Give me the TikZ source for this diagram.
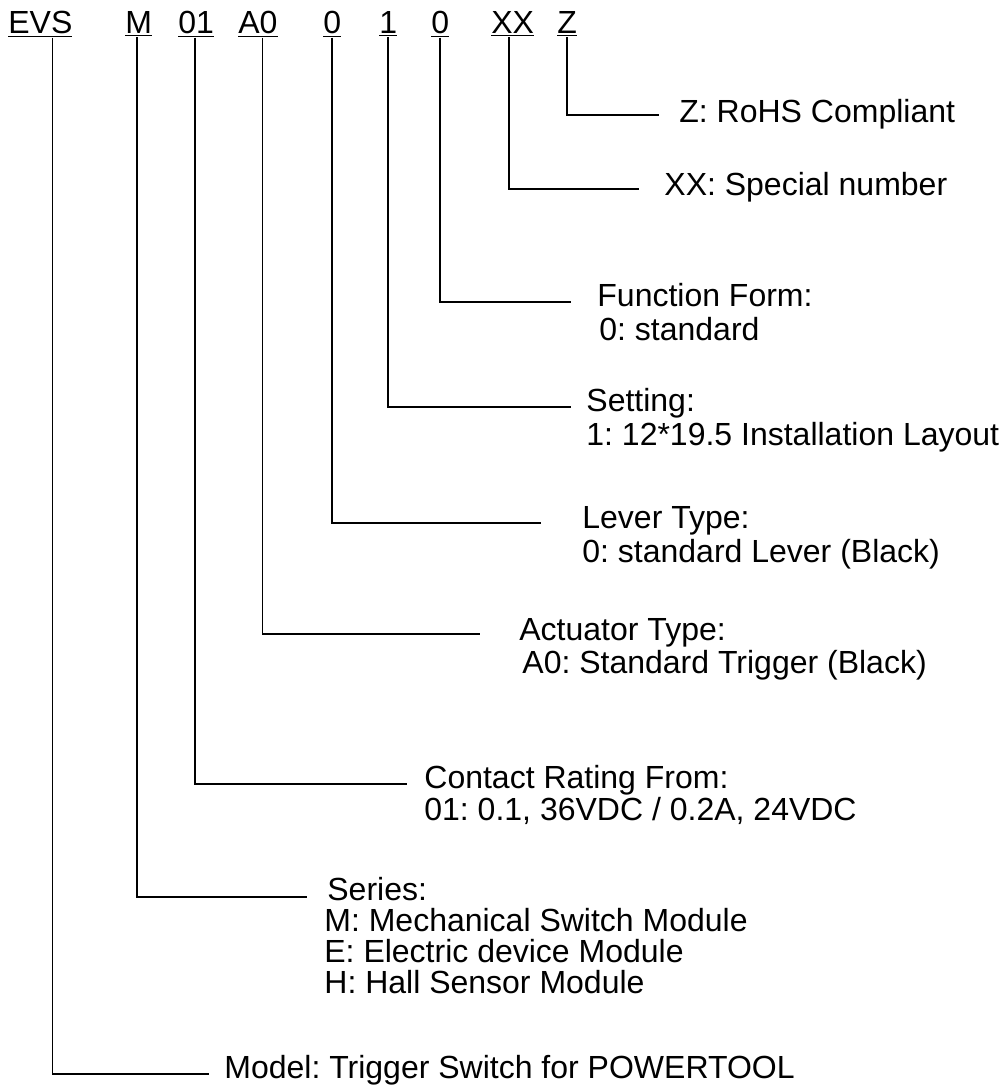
\documentclass[tikz,border=0pt]{standalone}
\usepackage{fontspec}
\setmainfont{Liberation Sans}
\usetikzlibrary{positioning}
\frenchspacing

\begin{document}
\begin{tikzpicture}[x=0.5pt,y=-0.5pt,node distance=17pt]
    \tikzstyle{code}=[inner sep=0pt,anchor=base west,
      font=\fontsize{16}{19}\selectfont]
    \tikzstyle{desc}=[inner sep=0pt,anchor=base west,
      font=\fontsize{16}{19}\selectfont]
    \tikzstyle{lead}=[line width=0.9pt]
    \useasboundingbox (0,0) rectangle (1004,1087);
    % part number
    \node[code] (evs) at (8,33) {\underline{EVS}};
    \node[code] (m) at (125,33) {\underline{M}};
    \node[code] (r01) at (178,33) {\underline{01}};
    \node[code] (a0) at (238,33) {\underline{A0}};
    \node[code] (lev0) at (323,33) {\underline{0}};
    \node[code] (set1) at (379,33) {\underline{1}};
    \node[code] (fun0) at (431,33) {\underline{0}};
    \node[code] (xx) at (491,33) {\underline{XX}};
    \node[code] (z) at (557,33) {\underline{Z}};
    % meanings
    \node[desc] (rohs) at (679,122) {Z: RoHS Compliant};
    \node[desc] (special) at (664,195) {XX: Special number};
    \node[desc] (function) at (597,306) {Function Form:};
    \node[desc,below=of function.base west,anchor=base west,xshift=1pt] (function2) {0: standard};
    \node[desc] (setting) at (586,411) {Setting:};
    \node[desc,below=of setting.base west,anchor=base west] (setting2) {1: 12*19.5 Installation Layout};
    \node[desc] (lever) at (582,528) {Lever Type:};
    \node[desc,below=of lever.base west,anchor=base west] (lever2) {0: standard Lever (Black)};
    \node[desc] (actuator) at (519,640) {Actuator Type:};
    \node[desc,below=16.5pt of actuator.base west,anchor=base west,xshift=1.5pt] (actuator2) {A0: Standard Trigger (Black)};
    \node[desc] (rating) at (424,788) {Contact Rating From:};
    \node[desc,below=16pt of rating.base west,anchor=base west] (rating2) {01: 0.1, 36VDC / 0.2A, 24VDC};
    \node[desc] (series) at (327,900) {Series:};
    \node[desc,below=15.5pt of series.base west,anchor=base west,xshift=-1.5pt] (series2) {M: Mechanical Switch Module};
    \node[desc,below=15.5pt of series2.base west,anchor=base west] (series3) {E: Electric device Module};
    \node[desc,below=15.5pt of series3.base west,anchor=base west] (series4) {H: Hall Sensor Module};
    \node[desc] (model) at (224,1078) {Model: Trigger Switch for POWERTOOL};
    % leader ends
    \coordinate (rohs-e) at (659,115);
    \coordinate (special-e) at (639,189);
    \coordinate (function-e) at (571,302);
    \coordinate (setting-e) at (571,407);
    \coordinate (lever-e) at (541,523);
    \coordinate (actuator-e) at (480,634);
    \coordinate (rating-e) at (407,784);
    \coordinate (series-e) at (307,897);
    \coordinate (model-e) at (209,1074);
    \draw[lead] (z.south) |- (rohs-e);
    \draw[lead] ([xshift=-1.75pt]xx.south) |- (special-e);
    \draw[lead] (fun0.south) |- (function-e);
    \draw[lead] (set1.south) |- (setting-e);
    \draw[lead] (lev0.south) |- (lever-e);
    \draw[lead] ([xshift=2.25pt]a0.south) |- (actuator-e);
    \draw[lead] ([xshift=-0.75pt]r01.south) |- (rating-e);
    \draw[lead] ([xshift=-0.75pt]m.south) |- (series-e);
    \draw[lead] ([xshift=6pt]evs.south) |- (model-e);
  \end{tikzpicture}
\end{document}
